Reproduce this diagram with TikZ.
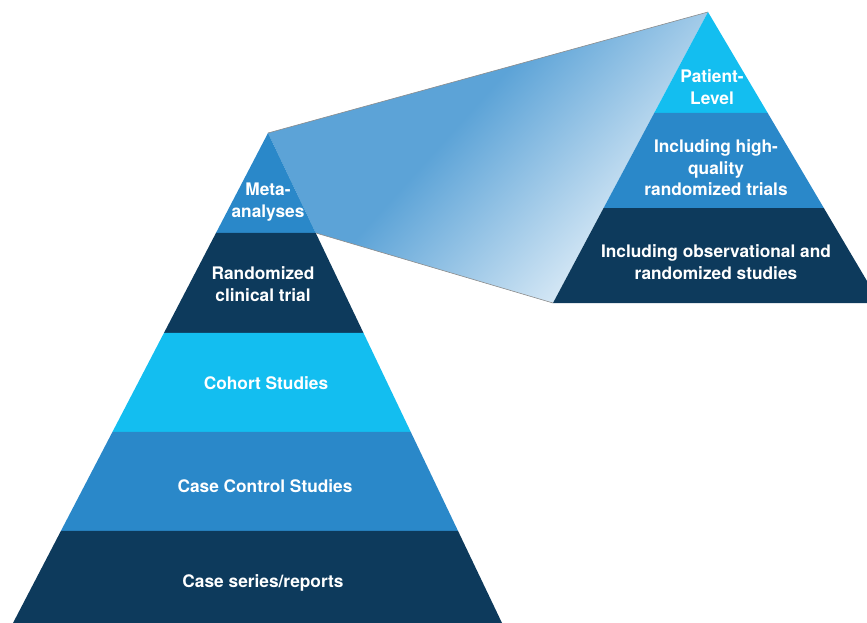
\documentclass[tikz,border=0pt]{standalone}
\usepackage{fontspec}
\setmainfont{TeX Gyre Heros}
\usetikzlibrary{calc}
\definecolor{navy}{HTML}{0D3A5C}
\definecolor{midblue}{HTML}{2A88C9}
\definecolor{cyanblue}{HTML}{13BEF0}
\definecolor{bridgeA}{HTML}{5CA3D7}
\definecolor{bridgeB}{HTML}{EDF5FB}
\definecolor{edge}{HTML}{8C8C8C}
\pgfdeclarehorizontalshading{bridge}{100bp}{color(0bp)=(bridgeA); color(25bp)=(bridgeA); color(44bp)=(bridgeA); color(75bp)=(bridgeB); color(100bp)=(bridgeB)}

\begin{document}
\begin{tikzpicture}[x=1pt,y=-1pt,
    lbl/.style={text=white,font=\fontsize{17.3}{21.5}\selectfont\bfseries,align=center,inner sep=0pt}]
  \useasboundingbox (0,0) rectangle (867,623);
  \clip (0,0) rectangle (867,623);

  % pyramid corners
  \coordinate (lA) at (268,133);
  \coordinate (lL) at (13,623);
  \coordinate (lR) at (502,623);
  \coordinate (rA) at (708,12);
  \coordinate (rL) at (553,303);
  \coordinate (rR) at (880,303);
  \coordinate (mR) at ($(lA)!0.204!(lR)$);

  % zoom-out band between the two tips
  \shade[shading=bridge,shading angle=-42] (lA) -- (rA) -- (rL) -- (mR) -- cycle;
  \draw[edge,line width=0.6pt] (lA) -- (rA);
  \draw[edge,line width=0.6pt] (mR) -- (rL);

  % Left pyramid
  \foreach \ta/\tb/\col in {0/0.204/midblue,0.204/0.408/navy,0.408/0.610/cyanblue,0.610/0.812/midblue,0.812/1/navy} {
    \fill[\col] ($(lA)!\ta!(lL)$) -- ($(lA)!\tb!(lL)$) -- ($(lA)!\tb!(lR)$) -- ($(lA)!\ta!(lR)$) -- cycle;
  }
  \node[lbl] (meta) at (268,202) {Meta-\\analyses};
  \node[lbl] (rct) at (263,284) {Randomized\\clinical trial};
  \node[lbl] (cohort) at (266,383) {Cohort Studies};
  \node[lbl] (casectrl) at (265,486) {Case Control Studies};
  \node[lbl] (caseser) at (263,583) {Case series/reports};

  % Right pyramid
  \foreach \ta/\tb/\col in {0/0.347/cyanblue,0.347/0.674/midblue,0.674/1/navy} {
    \fill[\col] ($(rA)!\ta!(rL)$) -- ($(rA)!\tb!(rL)$) -- ($(rA)!\tb!(rR)$) -- ($(rA)!\ta!(rR)$) -- cycle;
  }
  \node[lbl] (patient) at (712,87) {Patient-\\Level};
  \node[lbl] (hiqual) at (716,168) {Including high-\\quality\\randomized trials};
  \node[lbl] (obsrand) at (716,262) {Including observational and\\randomized studies};
\end{tikzpicture}
\end{document}
